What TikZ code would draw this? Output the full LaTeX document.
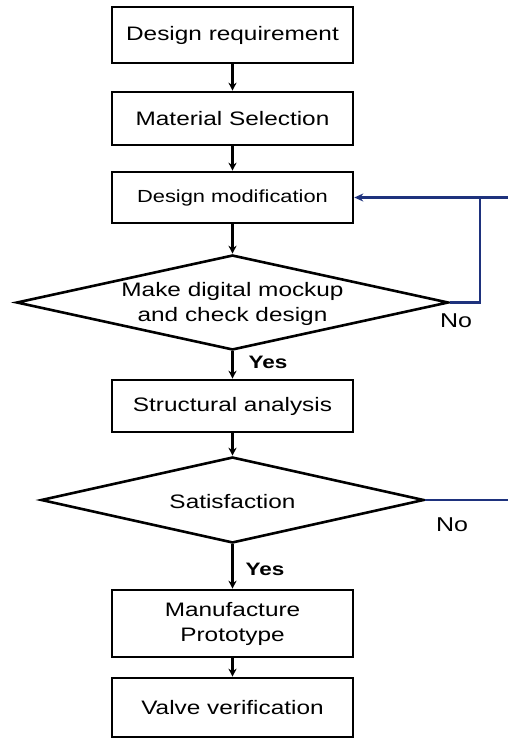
\documentclass[tikz,border=0pt]{standalone}
\usepackage{fontspec}
\setmainfont{Liberation Sans}[FakeStretch=1.25]
\usetikzlibrary{shapes.geometric,arrows.meta}
\definecolor{navyline}{RGB}{30,50,125}
\begin{document}
\begin{tikzpicture}[x=1pt,y=-1pt,
  box/.style={draw,line width=2.6pt,fill=white,minimum width=241pt,inner sep=0pt,align=center,font=\fontsize{19.5}{25}\selectfont},
  dia/.style={draw,diamond,line width=2.6pt,inner sep=0pt,fill=white},
  flow/.style={line width=2.6pt,-{Stealth[length=8pt,width=8pt]}},
  back/.style={line width=2.6pt,draw=navyline},
  lbl/.style={font=\fontsize{19.5}{25}\selectfont,align=center,inner sep=0pt},
  yeslbl/.style={font=\bfseries\fontsize{18}{20}\selectfont,inner sep=0pt},
  nolbl/.style={font=\fontsize{20}{22}\selectfont,inner sep=0pt}]
\useasboundingbox (0,0) rectangle (508,739);
\node[box,minimum height=56pt] (b1) at (232.5,35) {Design requirement};
\node[box,minimum height=53pt] (b2) at (232.5,118.5) {Material Selection};
\node[box,minimum height=51pt,font=\fontsize{17.5}{22}\selectfont] (b3) at (232.5,197.5) {Design modification};
\node[dia,minimum width=432pt,minimum height=95pt] (d1) at (232.5,302.5) {};
\node[lbl] (d1t) at (232.5,304) {Make digital mockup\\and check design};
\node[box,minimum height=52pt] (b4) at (232.5,406) {Structural analysis};
\node[dia,minimum width=383pt,minimum height=86pt] (d2) at (232.5,500) {};
\node[lbl] (d2t) at (232.5,502) {Satisfaction};
\node[box,minimum height=67pt] (b5) at (232.5,623.5) {Manufacture\\Prototype};
\node[box,minimum height=59pt] (b6) at (232.5,707.5) {Valve verification};

\draw[flow] (b1) -- (b2);
\draw[flow] (b2) -- (b3);
\draw[flow] (b3) -- (d1);
\draw[flow] (d1) -- (b4);
\draw[flow] (b4) -- (d2);
\draw[flow] (d2) -- (b5);
\draw[flow] (b5) -- (b6);

\coordinate (e1) at (508,197.5);
\coordinate (k1) at (480,197.5);
\coordinate (e2) at (508,500);
\draw[back] (d1.east) -| (k1);
\draw[back,-{Stealth[length=9pt,width=8pt]}] (e1) -- (b3.east);
\draw[back] (d2.east) -- (e2);

\node[yeslbl] (y1) at (268,362) {Yes};
\node[yeslbl] (y2) at (265,569) {Yes};
\node[nolbl] (n1) at (456,321) {No};
\node[nolbl] (n2) at (452,525) {No};
\end{tikzpicture}
\end{document}
